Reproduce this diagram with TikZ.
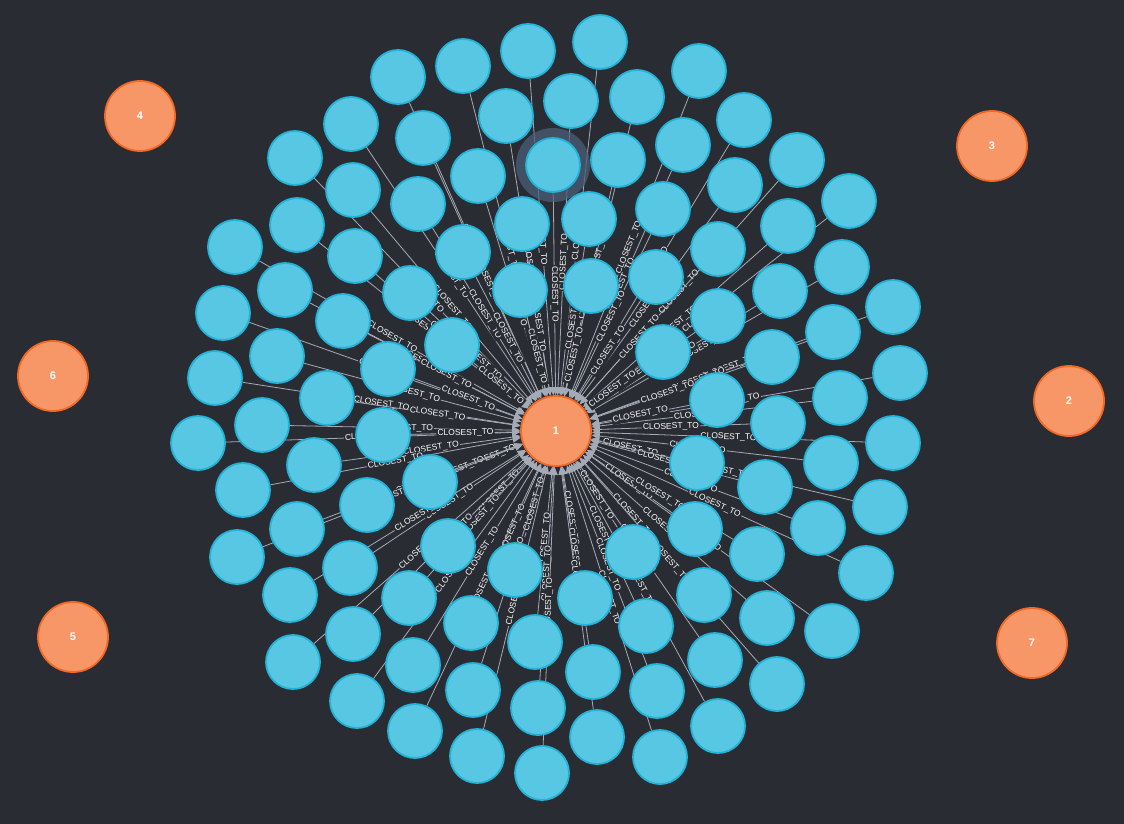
\documentclass[tikz,border=0pt]{standalone}
\usepackage{fontspec}
\setmainfont{Liberation Sans}
\usetikzlibrary{arrows.meta}
\pgfdeclarelayer{back}
\pgfdeclarelayer{rels}
\pgfsetlayers{back,rels,main}
\definecolor{canvas}{HTML}{292C33}
\definecolor{nodeblue}{HTML}{57C7E3}
\definecolor{blueedge}{HTML}{23B3D7}
\definecolor{nodeorange}{HTML}{F79767}
\definecolor{orangeedge}{HTML}{F36924}
\definecolor{relgray}{HTML}{A5ABB6}
\definecolor{halo}{HTML}{4A6079}
\begin{document}
\begin{tikzpicture}[x=1pt,y=-1pt,line join=round,>={Triangle[length=8pt,width=7pt]}]
		\tikzset{city/.style={circle,minimum size=54pt,inner sep=0pt,fill=nodeblue,draw=blueedge,line width=1.8pt},
			hub/.style={circle,minimum size=70pt,inner sep=0pt,fill=nodeorange,draw=orangeedge,line width=1.8pt,text=white,font=\bfseries\fontsize{11}{13}\selectfont},
			rel/.style={draw=relgray,line width=0.8pt},
			reltext/.style={midway,sloped,fill=canvas,inner sep=1.2pt,text=white,font=\fontsize{8.5}{9}\selectfont}}
		\begin{pgfonlayer}{back}
			\fill[canvas] (0,0) rectangle (1124,824);
		\end{pgfonlayer}
		\useasboundingbox (0,0) rectangle (1124,824);
		% the hubs
		\node[hub] (n1) at (556,431) {1};
		\foreach \x/\y/\t in {1069/401/2,992/146/3,140/116/4,73/637/5,53/376/6,1032/643/7}
		\node[hub] (n\t) at (\x,\y) {\t};
		% selected node
		\fill[halo,opacity=.75] (553,165) circle (37pt);
		% the cities round hub 1
		\foreach \x/\y [count=\i] in {600/42,528/51,463/66,398/77,699/71,571/101,637/97,506/116,423/138,351/124,
			744/120,295/158,553/165,618/160,683/145,478/176,797/160,353/190,418/204,735/185,
			849/201,522/224,589/219,663/209,297/225,235/247,463/252,718/249,788/226,355/256,
			842/267,520/290,591/286,656/277,285/290,410/293,780/291,223/313,893/307,343/321,
			718/316,833/332,452/345,663/352,277/356,772/357,215/378,388/369,900/373,327/398,
			840/398,717/400,198/443,262/425,383/435,778/423,893/443,314/465,831/463,430/482,
			697/463,243/490,765/487,880/507,367/505,297/529,695/529,818/528,237/557,448/546,
			633/552,757/554,350/568,515/570,866/573,290/595,409/598,585/598,704/595,767/618,
			471/623,353/634,646/626,832/631,293/662,535/642,413/665,593/672,715/660,473/690,
			357/701,657/691,777/684,538/708,415/731,597/737,718/726,477/756,660/757,542/773}
		\node[city] (c\i) at (\x,\y) {};
		% relationships
		\begin{pgfonlayer}{rels}
			\foreach \i in {1,...,100}
			\draw[rel,->] (c\i) -- node[reltext] {CLOSEST\_TO} (n1);
		\end{pgfonlayer}
\end{tikzpicture}
\end{document}
